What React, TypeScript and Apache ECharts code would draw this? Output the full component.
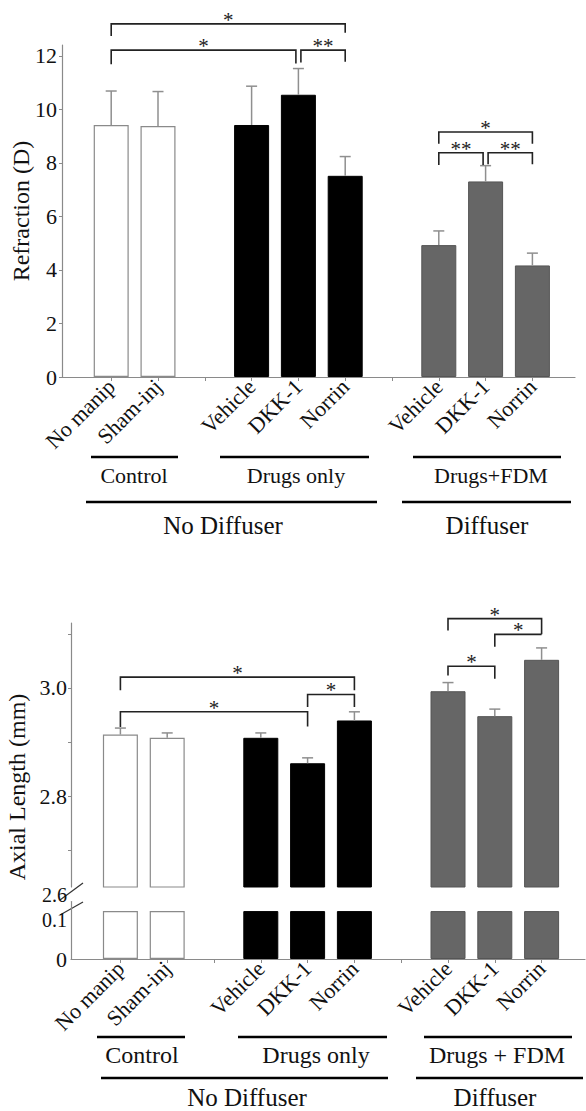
import React, { useEffect, useRef } from 'react';
import * as echarts from 'echarts';

const SERIF = 'Liberation Serif';

// ---------- data ----------
const categories = ['No manip', 'Sham-inj', '', 'Vehicle', 'DKK-1', 'Norrin', '', 'Vehicle', 'DKK-1', 'Norrin'];
const groupOf = ['control', 'control', '', 'drugs', 'drugs', 'drugs', '', 'fdm', 'fdm', 'fdm'];

const refractionMean = [9.42, 9.38, null, 9.42, 10.55, 7.52, null, 4.93, 7.31, 4.17];
const refractionSem = [1.27, 1.29, null, 1.45, 0.98, 0.72, null, 0.53, 0.59, 0.46];
const refractionTicks = [0, 2, 4, 6, 8, 10, 12];

const axialMean = [2.914, 2.908, null, 2.908, 2.861, 2.94, null, 2.994, 2.948, 3.052];
const axialSem = [0.012, 0.009, null, 0.009, 0.01, 0.016, null, 0.016, 0.013, 0.022];
const axialUpperTicks = [2.7, 2.8, 2.9, 3.0, 3.1];
const axialUpperLabels = [2.6325, 2.8, 3.0];
const axialLowerLabels = [0, 0.1];

// brackets: [fromIndex, toIndex, bracketY, leftLegEnd, rightLegEnd]
const refractionBrackets = [
  [0, 5, 13.2, 12.75, 12.87],
  [0, 4, 12.22, 11.69, 11.72],
  [4, 5, 12.22, 11.76, 11.78],
  [7, 9, 9.16, 8.72, 8.72],
  [7, 8, 8.38, 7.92, 7.92],
  [8, 9, 8.38, 7.95, 7.95],
];
const refractionStars = ['*', '*', '**', '*', '**', '**'];

const axialBrackets = [
  [0, 5, 3.02, 2.996, 2.996],
  [0, 4, 2.956, 2.928, 2.929],
  [4, 5, 2.988, 2.965, 2.965],
  [7, 8, 3.04, 3.023, 3.017],
  [8, 9, 3.099, 3.076, 3.099],
  [7, 9, 3.128, 3.106, 3.099],
];
const axialStars = ['*', '*', '*', '*', '*', '*'];

// ---------- styles ----------
const groupStyle: Record<string, any> = {
  control: { color: '#ffffff', borderColor: '#8a8a8a', borderWidth: 1.2 },
  drugs: { color: '#000000', borderColor: '#000000', borderWidth: 1 },
  fdm: { color: '#666666', borderColor: '#555555', borderWidth: 1 },
};
const AXIS_COLOR = '#8a8a8a';

function barData(values: (number | null)[], cap?: number) {
  return values.map((v, i) =>
    v == null ? '-' : { value: cap != null ? Math.min(v, cap) : v, itemStyle: groupStyle[groupOf[i]] }
  );
}

function errorSeries(xi: number, yi: number, mean: (number | null)[], sem: (number | null)[]) {
  const data = mean
    .map((v, i) => (v == null ? null : [i, v, sem[i] as number]))
    .filter((d) => d != null);
  return {
    type: 'custom',
    xAxisIndex: xi,
    yAxisIndex: yi,
    clip: false,
    z: 3,
    silent: true,
    data,
    encode: { x: 0, y: 1 },
    renderItem: (params: any, api: any) => {
      const i = api.value(0);
      const v = api.value(1);
      const e = api.value(2);
      const a = api.coord([i, v]);
      const b = api.coord([i, v + e]);
      const style = { stroke: '#8f8f8f', lineWidth: 1.5 };
      return {
        type: 'group',
        children: [
          { type: 'line', shape: { x1: a[0], y1: a[1], x2: b[0], y2: b[1] }, style },
          { type: 'line', shape: { x1: b[0] - 5.5, y1: b[1], x2: b[0] + 5.5, y2: b[1] }, style },
        ],
      };
    },
  };
}

function bracketSeries(xi: number, yi: number, brackets: number[][], stars: string[]) {
  return {
    type: 'custom',
    xAxisIndex: xi,
    yAxisIndex: yi,
    clip: false,
    z: 4,
    silent: true,
    data: brackets,
    encode: { x: [0, 1], y: [2, 3, 4] },
    renderItem: (params: any, api: any) => {
      const idx = params.dataIndex;
      const [f, t, y, l, r] = brackets[idx];
      let fx = api.coord([f, y])[0];
      let tx = api.coord([t, y])[0];
      if (brackets.some((o, j) => j !== idx && o[0] === t && Math.abs(o[2] - y) < 1e-9)) tx -= 2.5;
      if (brackets.some((o, j) => j !== idx && o[1] === f && Math.abs(o[2] - y) < 1e-9)) fx += 2.5;
      const py = api.coord([f, y])[1];
      const pl = api.coord([f, l])[1];
      const pr = api.coord([t, r])[1];
      return {
        type: 'group',
        children: [
          {
            type: 'polyline',
            shape: { points: [[fx, pl], [fx, py], [tx, py], [tx, pr]] },
            style: { stroke: '#222222', lineWidth: 1.6, fill: null },
          },
          {
            type: 'text',
            x: (fx + tx) / 2,
            y: py - 4,
            style: {
              text: stars[idx],
              fontSize: 21,
              fontFamily: SERIF,
              fill: '#222222',
              align: 'center',
              verticalAlign: 'middle',
            },
          },
        ],
      };
    },
  };
}

const hiddenValueY = (gridIndex: number, min: number, max: number) => ({
  gridIndex,
  type: 'value',
  min,
  max,
  show: false,
});

const frameX = (gridIndex: number, show: boolean) => ({
  gridIndex,
  type: 'value',
  min: 0,
  max: 1,
  show,
  axisLine: { show: true, lineStyle: { color: AXIS_COLOR, width: 1.2 } },
  axisTick: { show: false },
  axisLabel: { show: false },
  splitLine: { show: false },
});

const catX = (gridIndex: number, showLabels: boolean) => ({
  gridIndex,
  type: 'category',
  data: categories,
  show: showLabels,
  axisLine: { show: false },
  axisTick: { show: true, alignWithLabel: true, length: 4, lineStyle: { color: AXIS_COLOR, width: 1 } },
  axisLabel: {
    show: true,
    interval: 0,
    rotate: 45,
    margin: 6,
    fontSize: 22,
    fontFamily: SERIF,
    color: '#111111',
  },
  splitLine: { show: false },
});

const gridBase = { containLabel: false, outerBoundsMode: 'none' };

function buildOption() {
  const grids = [
    { ...gridBase, left: 62, top: 45, width: 513, height: 332 }, // 0 top frame
    { ...gridBase, left: 87.8, top: 45, width: 468, height: 332 }, // 1 top bars
    { ...gridBase, left: 71, top: 623, width: 514, height: 264 }, // 2 bottom upper frame
    { ...gridBase, left: 97, top: 623, width: 468, height: 264 }, // 3 bottom upper bars
    { ...gridBase, left: 71, top: 901.5, width: 514, height: 57.5 }, // 4 bottom lower frame
    { ...gridBase, left: 97, top: 901.5, width: 468, height: 57.5 }, // 5 bottom lower bars
  ];

  const labelStyle = { fontFamily: SERIF, color: '#111111' };

  const yAxes = [
    {
      gridIndex: 0,
      type: 'value',
      min: 0,
      max: 12.41,
      axisLine: { show: true, lineStyle: { color: AXIS_COLOR, width: 1.2 } },
      axisTick: { show: true, length: 3, customValues: refractionTicks, lineStyle: { color: AXIS_COLOR } },
      axisLabel: { customValues: refractionTicks, fontSize: 22, margin: 5, ...labelStyle },
      splitLine: { show: false },
    },
    hiddenValueY(1, 0, 12.41),
    {
      gridIndex: 2,
      type: 'value',
      min: 2.6325,
      max: 3.12,
      axisLine: { show: true, lineStyle: { color: AXIS_COLOR, width: 1.2 } },
      axisTick: { show: true, length: 3, customValues: axialUpperTicks, lineStyle: { color: AXIS_COLOR } },
      axisLabel: {
        customValues: axialUpperLabels,
        fontSize: 22,
        margin: 4,
        ...labelStyle,
        formatter: (v: number) => (v < 2.7 ? `{low|${v.toFixed(1)}}` : v.toFixed(1)),
        rich: {
          low: { fontSize: 20, fontFamily: SERIF, color: '#111111', lineHeight: 16, padding: [15, 0, 0, 0] },
        },
      },
      splitLine: { show: false },
    },
    hiddenValueY(3, 2.6325, 3.12),
    {
      gridIndex: 4,
      type: 'value',
      min: 0,
      max: 0.12,
      axisLine: { show: true, lineStyle: { color: AXIS_COLOR, width: 1.2 } },
      axisTick: { show: false },
      axisLabel: {
        customValues: axialLowerLabels,
        fontSize: 22,
        margin: 4,
        ...labelStyle,
        formatter: (v: number) => (v === 0 ? '0' : `{low|${v.toFixed(1)}}`),
        rich: {
          low: { fontSize: 20, fontFamily: SERIF, color: '#111111', lineHeight: 16, padding: [17, 0, 0, 0] },
        },
      },
      splitLine: { show: false },
    },
    hiddenValueY(5, 0, 0.12),
  ];

  const xAxes = [
    frameX(0, true),
    catX(1, true),
    frameX(2, false),
    catX(3, false),
    frameX(4, true),
    catX(5, true),
  ];

  const series: any[] = [
    { type: 'bar', xAxisIndex: 1, yAxisIndex: 1, barWidth: 35, data: barData(refractionMean), z: 2 },
    errorSeries(1, 1, refractionMean, refractionSem),
    bracketSeries(1, 1, refractionBrackets, refractionStars),
    { type: 'bar', xAxisIndex: 3, yAxisIndex: 3, barWidth: 35, data: barData(axialMean), z: 2 },
    errorSeries(3, 3, axialMean, axialSem),
    bracketSeries(3, 3, axialBrackets, axialStars),
    { type: 'bar', xAxisIndex: 5, yAxisIndex: 5, barWidth: 35, data: barData(axialMean, 0.1), z: 2 },
  ];

  const line = (x1: number, x2: number, y: number, w = 2.5) => ({
    type: 'line',
    silent: true,
    shape: { x1, y1: y, x2, y2: y },
    style: { stroke: '#000000', lineWidth: w },
  });
  const text = (s: string, x: number, y: number, size: number, rotation = 0) => ({
    type: 'text',
    silent: true,
    x,
    y,
    rotation,
    style: {
      text: s,
      fontSize: size,
      fontFamily: SERIF,
      fill: '#111111',
      align: 'center',
      verticalAlign: 'middle',
    },
  });

  const graphic = [
    // axis titles
    text('Refraction (D)', 21, 211, 24, Math.PI / 2),
    text('Axial Length (mm)', 17, 787, 24, Math.PI / 2),
    // top chart groupings
    line(91, 178, 457),
    line(220, 369, 457),
    line(413, 561, 457),
    text('Control', 134, 475, 22),
    text('Drugs only', 296, 475, 22),
    text('Drugs+FDM', 491, 475, 22),
    line(86, 377, 502),
    line(402, 571, 502),
    text('No Diffuser', 223, 525, 25),
    text('Diffuser', 487, 525, 25),
    // bottom chart groupings
    line(97, 185, 1037),
    line(238, 387, 1037),
    line(424, 572, 1037),
    text('Control', 142, 1055, 24),
    text('Drugs only', 316, 1055, 24),
    text('Drugs + FDM', 497, 1055, 24),
    line(101, 388, 1078),
    line(416, 583, 1078),
    text('No Diffuser', 247, 1097, 25),
    text('Diffuser', 495, 1097, 25),
    // axis break marks
    {
      type: 'line',
      silent: true,
      shape: { x1: 60, y1: 900, x2: 83, y2: 883 },
      style: { stroke: '#333333', lineWidth: 1.2 },
    },
    {
      type: 'line',
      silent: true,
      shape: { x1: 60, y1: 915, x2: 83, y2: 902 },
      style: { stroke: '#333333', lineWidth: 1.2 },
    },
  ];

  return {
    animation: false,
    backgroundColor: '#ffffff',
    textStyle: { fontFamily: SERIF },
    grid: grids,
    xAxis: xAxes,
    yAxis: yAxes,
    series,
    graphic,
  };
}

export default function App() {
  const ref = useRef<HTMLDivElement>(null);
  useEffect(() => {
    if (!ref.current) return;
    const chart = echarts.init(ref.current, null, { renderer: 'svg' });
    chart.setOption(buildOption() as any);
    return () => chart.dispose();
  }, []);
  return (
    <div
      ref={ref}
      style={{ position: 'absolute', left: 0, top: 0, width: 586, height: 1111, background: '#fff' }}
    />
  );
}
